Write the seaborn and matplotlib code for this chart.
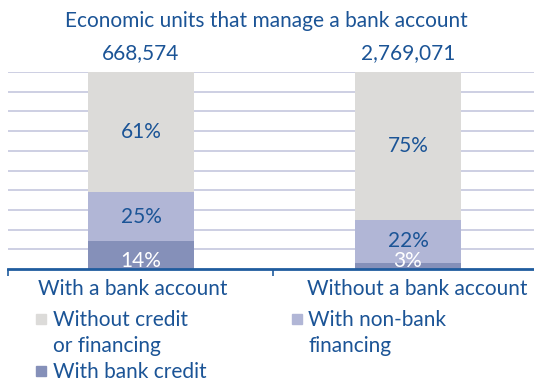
import matplotlib
matplotlib.use("Agg")
import matplotlib.pyplot as plt
from matplotlib.lines import Line2D
import seaborn as sns
import pandas as pd
import numpy as np

# Data
groups = ["With a bank account", "Without a bank account"]
totals = ["668,574", "2,769,071"]
bank_credit = [14, 3]
nonbank_financing = [25, 22]
no_credit = [61, 75]

BLUE = "#1b5496"
C_DARK = "#8590b9"
C_MID = "#b1b6d6"
C_LIGHT = "#dcdbd9"
GRID = "#c9cce1"

sns.set_theme(style="white")
plt.rcParams["font.family"] = ["Lato", "DejaVu Sans"]

fig = plt.figure(figsize=(5.34, 3.87), dpi=100)
ax = fig.add_axes([8 / 534, 1 - 269 / 387, 1 - 8 / 534, 197 / 387])

df = pd.DataFrame({
    "group": groups,
    "credit": bank_credit,
    "nonbank": nonbank_financing,
    "none": no_credit,
})
df["cum1"] = df["credit"]
df["cum2"] = df["credit"] + df["nonbank"]
df["cum3"] = df["cum2"] + df["none"]

bw = 106 / 267
# stacked bars drawn as overlaid cumulative totals
sns.barplot(data=df, x="group", y="cum3", color=C_LIGHT, width=bw, saturation=1,
            ax=ax, zorder=2, linewidth=0)
sns.barplot(data=df, x="group", y="cum2", color=C_MID, width=bw, saturation=1,
            ax=ax, zorder=3, linewidth=0)
sns.barplot(data=df, x="group", y="cum1", color=C_DARK, width=bw, saturation=1,
            ax=ax, zorder=4, linewidth=0)

ax.set_ylim(0, 100)
ax.set_xlim(-0.498, 1.472)
ax.set_yticks(np.arange(10, 101, 10))
ax.yaxis.grid(True, color=GRID, linewidth=1.3, zorder=0)
ax.set_axisbelow(True)
for s in ["left", "right", "top"]:
    ax.spines[s].set_visible(False)
ax.spines["bottom"].set_color("#1f5c9e")
ax.spines["bottom"].set_linewidth(2)
ax.spines["bottom"].set_zorder(10)
ax.set_xlabel("")
ax.set_ylabel("")
ax.tick_params(axis="y", left=False, labelleft=False)
ax.set_xticks([-0.497, 0.494])
ax.set_xticklabels([])
ax.tick_params(axis="x", bottom=True, length=5, width=1.2, color="#1f5c9e", direction="out")

fs = 15
for i in range(len(groups)):
    c1, c2, c3 = df.loc[i, "cum1"], df.loc[i, "cum2"], df.loc[i, "cum3"]
    ax.text(i, 4, f"{bank_credit[i]}%", ha="center", va="center", color="white",
            fontsize=fs, zorder=6)
    ax.text(i, (c1 + c2) / 2, f"{nonbank_financing[i]}%", ha="center", va="center",
            color=BLUE, fontsize=fs, zorder=6)
    ax.text(i, (c2 + c3) / 2, f"{no_credit[i]}%", ha="center", va="center",
            color=BLUE, fontsize=fs, zorder=6)
    ax.text(i, 109.6, totals[i], ha="center", va="center", color=BLUE,
            fontsize=fs, clip_on=False)

label_x = [-0.03, 1.034]
for i, g in enumerate(groups):
    ax.text(label_x[i], -10.2, g, ha="center", va="center", color=BLUE,
            fontsize=fs, clip_on=False)

fig.text(266 / 534, 1 - 21 / 387, "Economic units that manage a bank account",
         ha="center", va="center", color=BLUE, fontsize=fs)

blank = Line2D([], [], linestyle="none", marker=None)
def sq(c):
    return Line2D([], [], linestyle="none", marker="s", markersize=6.5,
                  markerfacecolor=c, markeredgecolor=c)

handles = [sq(C_LIGHT), blank, sq(C_DARK), sq(C_MID), blank]
labels = ["Without credit", "or financing", "With bank credit",
          "With non-bank", "financing"]
leg = fig.legend(handles, labels, ncol=2, loc="upper left",
                 bbox_to_anchor=(36 / 534, 1 - 310 / 387), frameon=False,
                 fontsize=fs, handlelength=0.5, handletextpad=0.3,
                 labelspacing=0.3, columnspacing=4.1, borderpad=0,
                 borderaxespad=0, labelcolor=BLUE)

fig.savefig("out.png", dpi=100)
